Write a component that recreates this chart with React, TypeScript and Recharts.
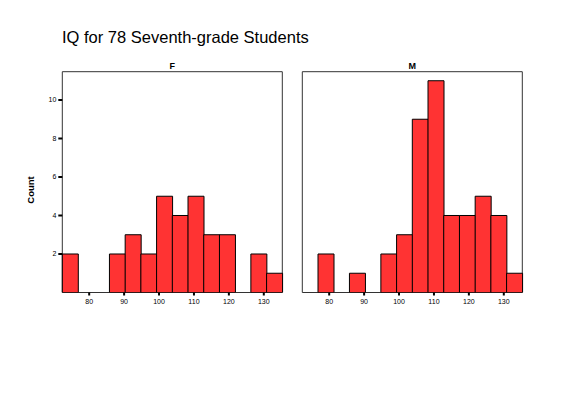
import { Bar, BarChart, ReferenceArea, XAxis, YAxis } from "recharts";

// IQ histogram bins (start of each bin, width 4.5)
const binStarts = [72.3, 76.8, 81.3, 85.8, 90.3, 94.8, 99.3, 103.8, 108.3, 112.8, 117.3, 121.8, 126.3, 130.8];
const binWidth = 4.5;
const femaleCounts = [2, 0, 0, 2, 3, 2, 5, 4, 5, 3, 3, 0, 2, 1];
const maleCounts = [0, 2, 0, 1, 0, 2, 3, 9, 11, 4, 4, 5, 4, 1];
const xTicks = [80, 90, 100, 110, 120, 130];
const yTicks = [2, 4, 6, 8, 10];

const xMin = binStarts[0];
const xMax = binStarts[binStarts.length - 1] + binWidth;
const yMax = 11.47;

const font = "'Liberation Sans', Arial, sans-serif";

function buildRows(counts: number[]) {
  return binStarts.map((start, i) => ({
    bin: String(i),
    mid: start + binWidth / 2,
    count: counts[i],
  }));
}

function Panel({ counts, showLabels, left }: { counts: number[]; showLabels: boolean; left: number }) {
  const data = buildRows(counts);
  return (
    <div style={{ position: "absolute", left, top: 60 }}>
      <BarChart
        width={260}
        height={260}
        data={data}
        margin={{ top: 11.7, right: 7.7, left: 0, bottom: 0 }}
        barCategoryGap={0}
      >
        <XAxis
          xAxisId="iq"
          dataKey="mid"
          type="number"
          domain={[xMin, xMax]}
          ticks={xTicks}
          allowDataOverflow
          axisLine={false}
          tickLine={{ stroke: "#000", strokeWidth: 2 }}
          tickSize={3}
          tickMargin={4}
          height={27.5}
          tick={{ fontSize: 7, fill: "#000", fontFamily: font }}
        />
        <XAxis xAxisId="bins" dataKey="bin" orientation="top" hide />
        <YAxis
          width={32.3}
          domain={[0, yMax]}
          ticks={yTicks}
          allowDataOverflow
          axisLine={false}
          tickLine={{ stroke: "#000", strokeWidth: 2 }}
          tickSize={4}
          tickMargin={2}
          tick={showLabels ? { fontSize: 7, fill: "#000", fontFamily: font } : false}
        />
        <Bar
          xAxisId="bins"
          dataKey="count"
          fill="#ff3333"
          stroke="#000"
          strokeWidth={1}
          isAnimationActive={false}
        />
        <ReferenceArea
          xAxisId="iq"
          x1={xMin}
          x2={xMax}
          y1={0}
          y2={yMax}
          fill="none"
          stroke="#333"
          strokeWidth={1}
          fillOpacity={0}
        />
      </BarChart>
    </div>
  );
}

export default function App() {
  return (
    <div style={{ position: "absolute", left: 0, top: 0, width: 570, height: 394, background: "#fff" }}>
      <Panel counts={femaleCounts} showLabels left={30} />
      <Panel counts={maleCounts} showLabels={false} left={270} />
      <svg
        width={570}
        height={394}
        style={{ position: "absolute", left: 0, top: 0, pointerEvents: "none" }}
      >
        <text x={62} y={43.3} fontSize={16.5} fontFamily={font} fill="#000">
          IQ for 78 Seventh-grade Students
        </text>
        <text x={172.3} y={69.3} fontSize={9} fontWeight="bold" textAnchor="middle" fontFamily={font} fill="#000">
          F
        </text>
        <text x={412.3} y={69.3} fontSize={9} fontWeight="bold" textAnchor="middle" fontFamily={font} fill="#000">
          M
        </text>
        <text
          x={34}
          y={190}
          transform="rotate(-90 34 190)"
          fontSize={9.5}
          fontWeight="bold"
          textAnchor="middle"
          fontFamily={font}
          fill="#000"
        >
          Count
        </text>
      </svg>
    </div>
  );
}
